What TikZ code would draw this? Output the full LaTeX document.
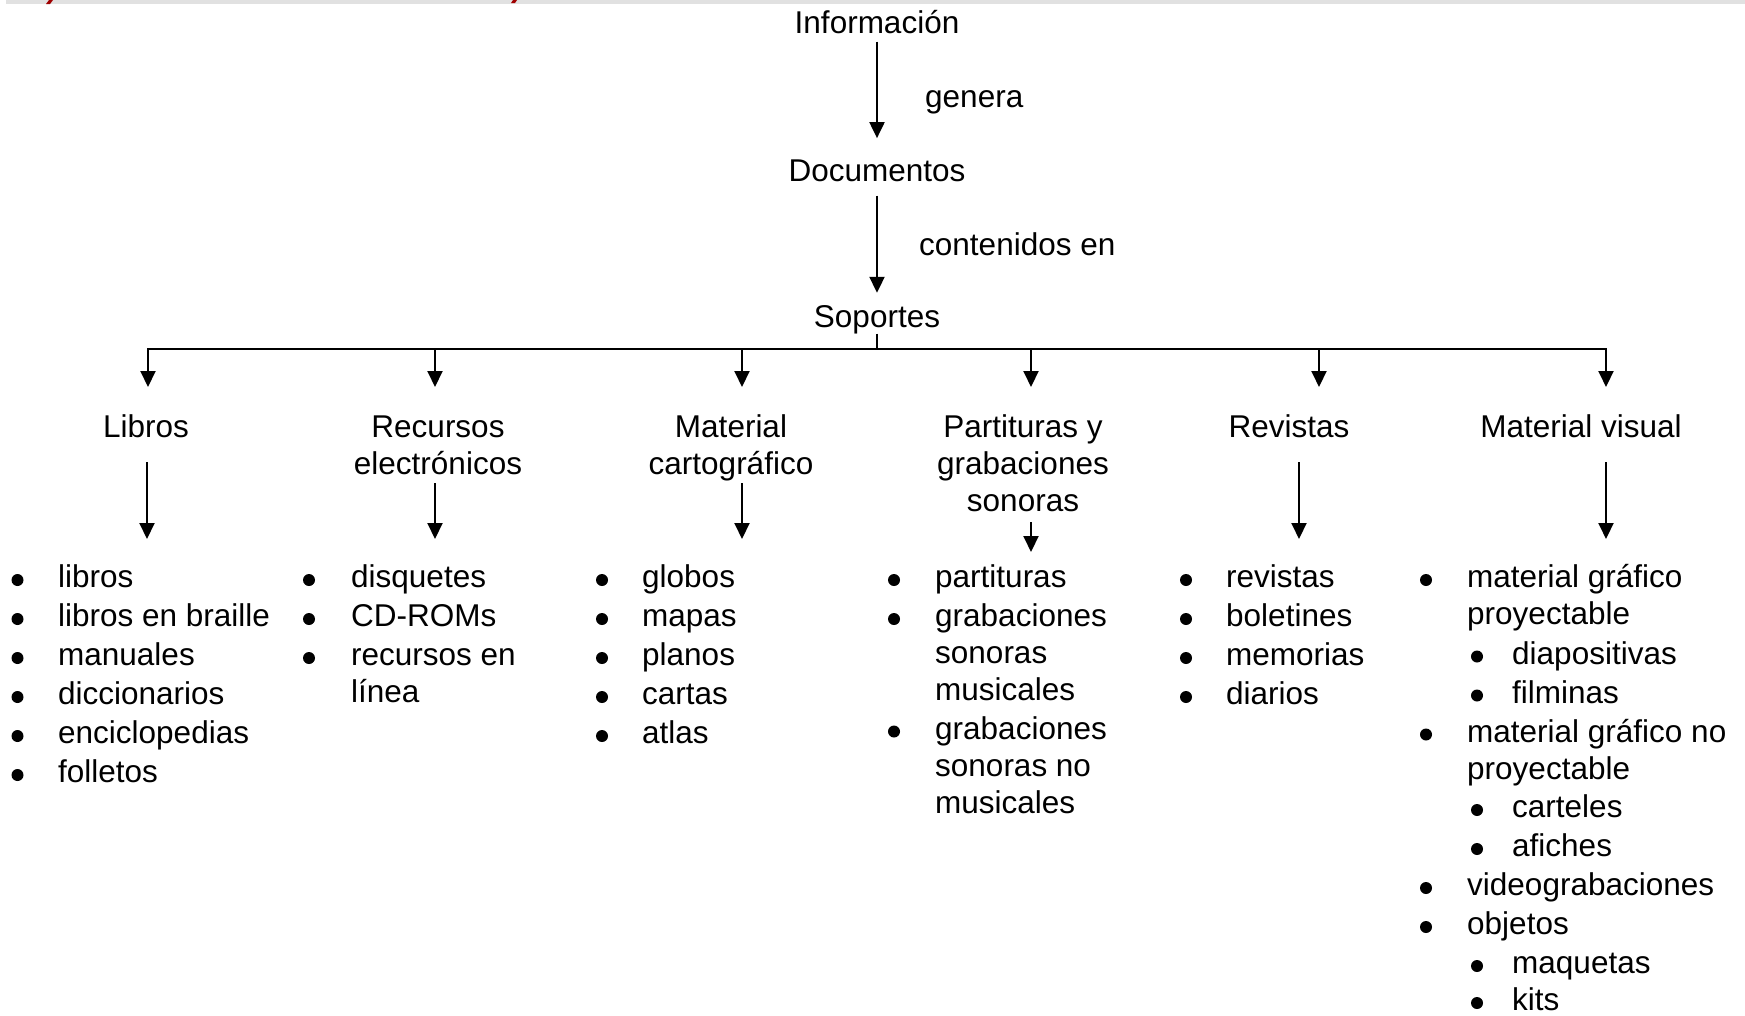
\documentclass[tikz,border=0pt]{standalone}
\usepackage{fontspec}
\setmainfont{Liberation Sans}
\usetikzlibrary{arrows.meta}
\definecolor{stripgray}{RGB}{225,225,225}
\definecolor{darkred}{RGB}{160,0,0}
\begin{document}
\begin{tikzpicture}[x=1pt,y=-1pt,
  txt/.style={inner sep=0pt, font=\fontsize{31.5}{37}\selectfont},
  lbl/.style={txt, anchor=base},
  head/.style={txt, anchor=base, align=center},
  item/.style={txt, anchor=base west, align=left},
  bul/.style={circle, fill=black, inner sep=0pt, minimum size=12pt},
  arr/.style={line width=2pt, -{Triangle[length=16pt,width=15pt]}},
  ln/.style={line width=2pt}]
\useasboundingbox (0,0) rectangle (1745,1015);
% top strip
\fill[stripgray] (6,0) rectangle (1745,4);
\fill[darkred] (49,0) -- (53,0) -- (50,4) -- (46,4) -- cycle;
\fill[darkred] (513,0) -- (517,0) -- (515,3) -- (511,3) -- cycle;

% top chain
\node[lbl] (info) at (877,33) {Información};
\node[lbl] (doc) at (877,181) {Documentos};
\node[lbl] (sop) at (877,327) {Soportes};
\node[txt, anchor=base west] (gen) at (925,107) {genera};
\node[txt, anchor=base west] (cont) at (919,255) {contenidos en};
\draw[arr, shorten <=8pt, shorten >=21pt] (info.south) -- (doc.north);
\draw[arr, shorten <=14pt, shorten >=12pt] (doc.south) -- (sop.north);
\coordinate (bus) at (877,349);
\draw[ln] (sop.south) -- (bus);

% children (base anchor = last line)
\node[head] (lib) at (146,437) {Libros};
\node[head] (rec) at (438,474) {Recursos\\electrónicos};
\node[head] (map) at (731,474) {Material\\cartográfico};
\node[head] (par) at (1023,511) {Partituras y\\grabaciones\\sonoras};
\node[head] (rev) at (1289,437) {Revistas};
\node[head] (vis) at (1581,437) {Material visual};

\coordinate (t1) at (148,387);
\coordinate (t2) at (435,387);
\coordinate (t3) at (742,387);
\coordinate (t4) at (1031,387);
\coordinate (t5) at (1319,387);
\coordinate (t6) at (1606,387);
\draw[ln] (t1 |- bus) -- (t6 |- bus);
\foreach \t in {t1,t2,t3,t4,t5,t6}
  \draw[arr] (bus) -| (\t);

% second level arrows
\coordinate (l1a) at (147,462);  \coordinate (l1b) at (147,539);
\coordinate (l2a) at (435,483);  \coordinate (l2b) at (435,539);
\coordinate (l3a) at (742,483);  \coordinate (l3b) at (742,539);
\coordinate (l4a) at (1031,522); \coordinate (l4b) at (1031,552);
\coordinate (l5a) at (1299,462); \coordinate (l5b) at (1299,539);
\coordinate (l6a) at (1606,462); \coordinate (l6b) at (1606,539);
\foreach \k in {1,...,6}
  \draw[arr] (l\k a) -- (l\k b);

% column 1
\foreach \y/\t [count=\i] in {587.5/libros,626.5/libros en braille,665.5/manuales,704.5/diccionarios,743.5/enciclopedias,782.5/folletos}{
  \node[bul] (b1\i) at (17.5,\y-7.5) {};
  \node[item] (i1\i) at (58,\y) {\t};
}
% column 2
\node[bul] (b21) at (309,580) {};
\node[item] (i21) at (351,587.5) {disquetes};
\node[bul] (b22) at (309,619) {};
\node[item] (i22) at (351,626.5) {CD-ROMs};
\node[bul] (b23) at (309,658) {};
\node[item] (i23) at (351,702.5) {recursos en\\línea};
% column 3
\foreach \y/\t [count=\i] in {587.5/globos,626.5/mapas,665.5/planos,704.5/cartas,743.5/atlas}{
  \node[bul] (b3\i) at (602,\y-7.5) {};
  \node[item] (i3\i) at (642,\y) {\t};
}
% column 4
\node[bul] (b41) at (894,580) {};
\node[item] (i41) at (935,587.5) {partituras};
\node[bul] (b42) at (894,619) {};
\node[item] (i42) at (935,700.5) {grabaciones\\sonoras\\musicales};
\node[bul] (b43) at (894,731.5) {};
\node[item] (i43) at (935,813) {grabaciones\\sonoras no\\musicales};
% column 5
\foreach \y/\t [count=\i] in {587.5/revistas,626.5/boletines,665.5/memorias,704.5/diarios}{
  \node[bul] (b5\i) at (1186,\y-7.5) {};
  \node[item] (i5\i) at (1226,\y) {\t};
}
% column 6
\node[bul] (b61) at (1426,580) {};
\node[item] (i61) at (1467,624.5) {material gráfico\\proyectable};
\node[bul] (s61) at (1477,656.5) {};
\node[item] (j61) at (1512,664) {diapositivas};
\node[bul] (s62) at (1477,695.5) {};
\node[item] (j62) at (1512,703) {filminas};
\node[bul] (b62) at (1426,734.5) {};
\node[item] (i62) at (1467,779) {material gráfico no\\proyectable};
\node[bul] (s63) at (1477,810) {};
\node[item] (j63) at (1512,817.5) {carteles};
\node[bul] (s64) at (1477,849) {};
\node[item] (j64) at (1512,856.5) {afiches};
\node[bul] (b63) at (1426,888) {};
\node[item] (i63) at (1467,895.5) {videograbaciones};
\node[bul] (b64) at (1426,927) {};
\node[item] (i64) at (1467,934.5) {objetos};
\node[bul] (s65) at (1477,966) {};
\node[item] (j65) at (1512,973.5) {maquetas};
\node[bul] (s66) at (1477,1003) {};
\node[item] (j66) at (1512,1010.5) {kits};
\end{tikzpicture}
\end{document}
